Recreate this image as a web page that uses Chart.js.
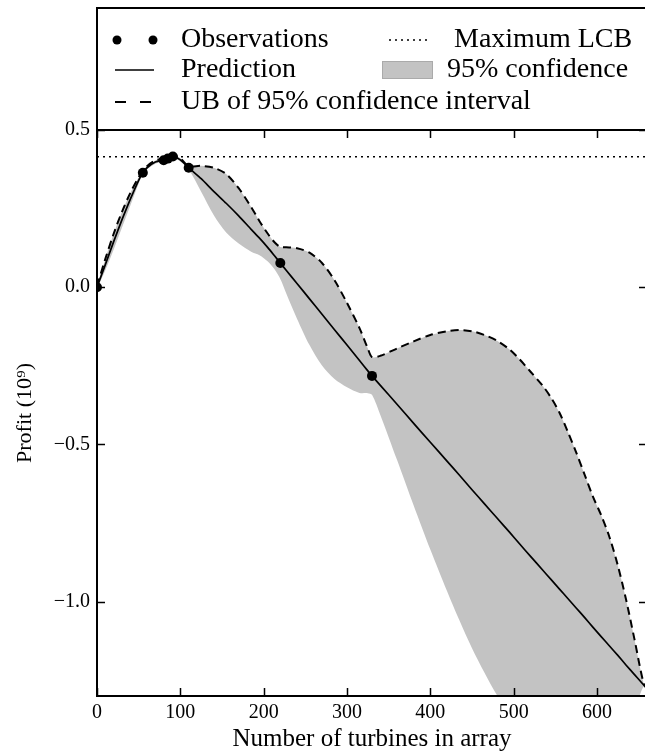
<!DOCTYPE html>
<html>
<head>
<meta charset="utf-8">
<title>Profit vs number of turbines</title>
<script src="https://cdn.jsdelivr.net/npm/chart.js@4.4.1/dist/chart.umd.min.js"></script>
<style>
  html, body { margin: 0; padding: 0; background: #fff; overflow: hidden; }
  canvas { display: block; }
</style>
</head>
<body>
<canvas id="profit-chart" width="652" height="755"></canvas>
<script>
// Observed runs: number of turbines and resulting profit (10^9)
const obsTurbines = [0, 55, 80, 85, 91, 110, 220, 330];
const obsProfit = [0.0, 0.364, 0.404, 0.409, 0.416, 0.380, 0.077, -0.282];

// Best lower confidence bound so far
const maxLcb = 0.415;

// Sample grid for the prediction and its 95% band
const gridTurbines = [0, 10, 20, 30, 40, 50, 55, 60, 70, 80, 85, 91,
  100, 110, 125, 140, 155, 170, 185, 195, 205, 213, 220, 227,
  240, 255, 270, 285, 300, 315, 325, 330, 340, 360, 380, 400,
  420, 435, 450, 465, 480, 495, 507, 520, 535, 545, 555, 565,
  575, 585, 595, 605, 615, 625, 635, 645, 656, 660];

const predProfit = [0, 0.072, 0.145, 0.215, 0.28, 0.34, 0.364, 0.38, 0.398, 0.406, 0.41, 0.416,
  0.405, 0.38, 0.345, 0.305, 0.267, 0.227, 0.184, 0.156, 0.126, 0.100, 0.077, 0.054,
  0.012, -0.037, -0.086, -0.135, -0.184, -0.233, -0.266, -0.282, -0.312, -0.372, -0.433, -0.493,
  -0.553, -0.598, -0.644, -0.689, -0.734, -0.779, -0.816, -0.855, -0.900, -0.930, -0.960, -0.990,
  -1.020, -1.050, -1.081, -1.111, -1.141, -1.171, -1.202, -1.232, -1.265, -1.277];

const ubProfit = [0.004, 0.09, 0.17, 0.24, 0.30, 0.35, 0.368, 0.385, 0.403, 0.41, 0.414, 0.42,
  0.41, 0.385, 0.386, 0.38, 0.36, 0.315, 0.255, 0.21, 0.17, 0.143, 0.128, 0.127,
  0.124, 0.11, 0.077, 0.022, -0.05, -0.13, -0.195, -0.222, -0.218, -0.195, -0.172, -0.152,
  -0.14, -0.136, -0.14, -0.152, -0.17, -0.198, -0.229, -0.268, -0.314, -0.352, -0.399, -0.46,
  -0.525, -0.595, -0.665, -0.725, -0.795, -0.885, -0.995, -1.12, -1.26, -1.27];

const lbProfit = [-0.004, 0.054, 0.12, 0.19, 0.26, 0.33, 0.36, 0.375, 0.393, 0.40, 0.406, 0.412,
  0.40, 0.375, 0.304, 0.23, 0.174, 0.139, 0.113, 0.102, 0.082, 0.057, 0.026, -0.019,
  -0.10, -0.184, -0.249, -0.292, -0.318, -0.336, -0.337, -0.342, -0.406, -0.549, -0.694, -0.834,
  -0.966, -1.06, -1.148, -1.226, -1.298, -1.36, -1.403, -1.442, -1.486, -1.508, -1.521, -1.52,
  -1.515, -1.505, -1.497, -1.497, -1.487, -1.457, -1.409, -1.344, -1.27, -1.284];

// Axis ticks
const xTickValues = [0, 100, 200, 300, 400, 500, 600];
const yTickValues = [-1.0, -0.5, 0.0, 0.5];

const serif = "'Liberation Serif', 'DejaVu Serif', serif";
const bandGrey = '#c3c3c3';

function toPoints(xs, ys) {
  return xs.map((x, i) => ({ x: x, y: ys[i] }));
}

// Frame with inward ticks on all four sides
const frameAndTicks = {
  id: 'frameAndTicks',
  afterDatasetsDraw(chart) {
    const { ctx, chartArea: a, scales } = chart;
    ctx.save();
    ctx.strokeStyle = '#000';
    ctx.lineWidth = 1.5;
    ctx.beginPath();
    scales.x.ticks.forEach(t => {
      const px = Math.round(scales.x.getPixelForValue(t.value)) + 0.5;
      ctx.moveTo(px, a.bottom); ctx.lineTo(px, a.bottom - 8);
      ctx.moveTo(px, a.top); ctx.lineTo(px, a.top + 8);
    });
    scales.y.ticks.forEach(t => {
      const py = Math.round(scales.y.getPixelForValue(t.value)) + 0.5;
      ctx.moveTo(a.left, py); ctx.lineTo(a.left + 8, py);
      ctx.moveTo(a.right, py); ctx.lineTo(a.right - 8, py);
    });
    ctx.stroke();
    ctx.lineWidth = 2;
    ctx.strokeRect(a.left, a.top, a.right - a.left, a.bottom - a.top);
    ctx.restore();
  }
};

// Legend box sitting on top of the axes
const legendBox = {
  id: 'legendBox',
  afterDraw(chart) {
    const { ctx, chartArea: a } = chart;
    const ds = chart.data.datasets;
    const top = 8;
    const rows = [47, 77, 109];      // text baselines
    const mid = r => rows[r] - 7;    // handle centre line
    ctx.save();
    ctx.strokeStyle = '#000';
    ctx.lineWidth = 2;
    ctx.strokeRect(a.left, top, chart.width, a.top - top);

    ctx.fillStyle = '#000';
    ctx.font = '28px ' + serif;
    ctx.textBaseline = 'alphabetic';

    // Observations: two dots
    [117, 153].forEach(x => {
      ctx.beginPath();
      ctx.arc(x, mid(0), 4.5, 0, Math.PI * 2);
      ctx.fill();
    });
    ctx.fillText(ds[0].label, 181, rows[0]);

    // Maximum LCB: dotted line
    ctx.lineWidth = 1.5;
    ctx.setLineDash([2, 4]);
    ctx.beginPath();
    ctx.moveTo(389, mid(0)); ctx.lineTo(429, mid(0));
    ctx.stroke();
    ctx.fillText(ds[1].label, 454, rows[0]);

    // Prediction: solid line
    ctx.setLineDash([]);
    ctx.beginPath();
    ctx.moveTo(115, mid(1)); ctx.lineTo(154, mid(1));
    ctx.stroke();
    ctx.fillText(ds[2].label, 181, rows[1]);

    // 95% confidence: grey patch
    ctx.fillStyle = bandGrey;
    ctx.fillRect(382, mid(1) - 9, 51, 18);
    ctx.strokeStyle = '#aaa';
    ctx.lineWidth = 1;
    ctx.strokeRect(382.5, mid(1) - 8.5, 50, 17);
    ctx.fillStyle = '#000';
    ctx.fillText(ds[4].label, 447, rows[1]);

    // Upper bound: dashed line
    ctx.strokeStyle = '#000';
    ctx.lineWidth = 2;
    ctx.setLineDash([11, 14]);
    ctx.beginPath();
    ctx.moveTo(115, mid(2)); ctx.lineTo(154, mid(2));
    ctx.stroke();
    ctx.setLineDash([]);
    ctx.fillText(ds[3].label, 181, rows[2]);
    ctx.restore();
  }
};

const ctx = document.getElementById('profit-chart').getContext('2d');

new Chart(ctx, {
  type: 'line',
  data: {
    datasets: [
      {
        label: 'Observations',
        data: toPoints(obsTurbines, obsProfit),
        showLine: false,
        pointRadius: 5,
        pointHoverRadius: 5,
        pointBackgroundColor: '#000',
        pointBorderWidth: 0,
        clip: 0,
        order: 0
      },
      {
        label: 'Maximum LCB',
        data: [{ x: 0, y: maxLcb }, { x: 660, y: maxLcb }],
        borderColor: '#000',
        borderWidth: 1.5,
        borderDash: [2, 4],
        pointRadius: 0,
        order: 1
      },
      {
        label: 'Prediction',
        data: toPoints(gridTurbines, predProfit),
        borderColor: '#000',
        borderWidth: 1.7,
        pointRadius: 0,
        tension: 0.2,
        order: 2
      },
      {
        label: 'UB of 95% confidence interval',
        data: toPoints(gridTurbines, ubProfit),
        borderColor: '#000',
        borderWidth: 2,
        borderDash: [8, 5],
        pointRadius: 0,
        tension: 0.3,
        order: 3
      },
      {
        label: '95% confidence',
        data: toPoints(gridTurbines, lbProfit),
        borderWidth: 0,
        borderColor: 'rgba(0,0,0,0)',
        backgroundColor: bandGrey,
        fill: 3,
        pointRadius: 0,
        tension: 0.3,
        order: 5
      }
    ]
  },
  options: {
    responsive: false,
    animation: false,
    events: [],
    layout: { padding: { left: 0, top: 130, right: 5, bottom: 0 } },
    plugins: {
      legend: { display: false },
      tooltip: { enabled: false }
    },
    scales: {
      x: {
        type: 'linear',
        min: 0,
        max: 660,
        afterBuildTicks: scale => { scale.ticks = xTickValues.map(v => ({ value: v })); },
        afterFit: scale => { scale.height = 59; },
        grid: { display: false, drawTicks: false },
        border: { display: false },
        ticks: {
          color: '#000',
          padding: 5,
          font: { family: serif, size: 20 },
          callback: v => String(v)
        },
        title: {
          display: true,
          text: 'Number of turbines in array',
          color: '#000',
          font: { family: serif, size: 25 },
          padding: { top: 0, bottom: 1 }
        }
      },
      y: {
        type: 'linear',
        min: -1.3,
        max: 0.5,
        afterBuildTicks: scale => { scale.ticks = yTickValues.map(v => ({ value: v })); },
        afterFit: scale => { scale.width = 97; },
        grid: { display: false, drawTicks: false },
        border: { display: false },
        ticks: {
          color: '#000',
          padding: 7,
          font: { family: serif, size: 20 },
          callback: v => v.toFixed(1).replace('-', '\u2212')
        },
        title: {
          display: true,
          text: 'Profit (10\u2079)',
          color: '#000',
          font: { family: serif, size: 22 },
          padding: { top: 12, bottom: 0 }
        }
      }
    }
  },
  plugins: [frameAndTicks, legendBox]
});
</script>
</body>
</html>
